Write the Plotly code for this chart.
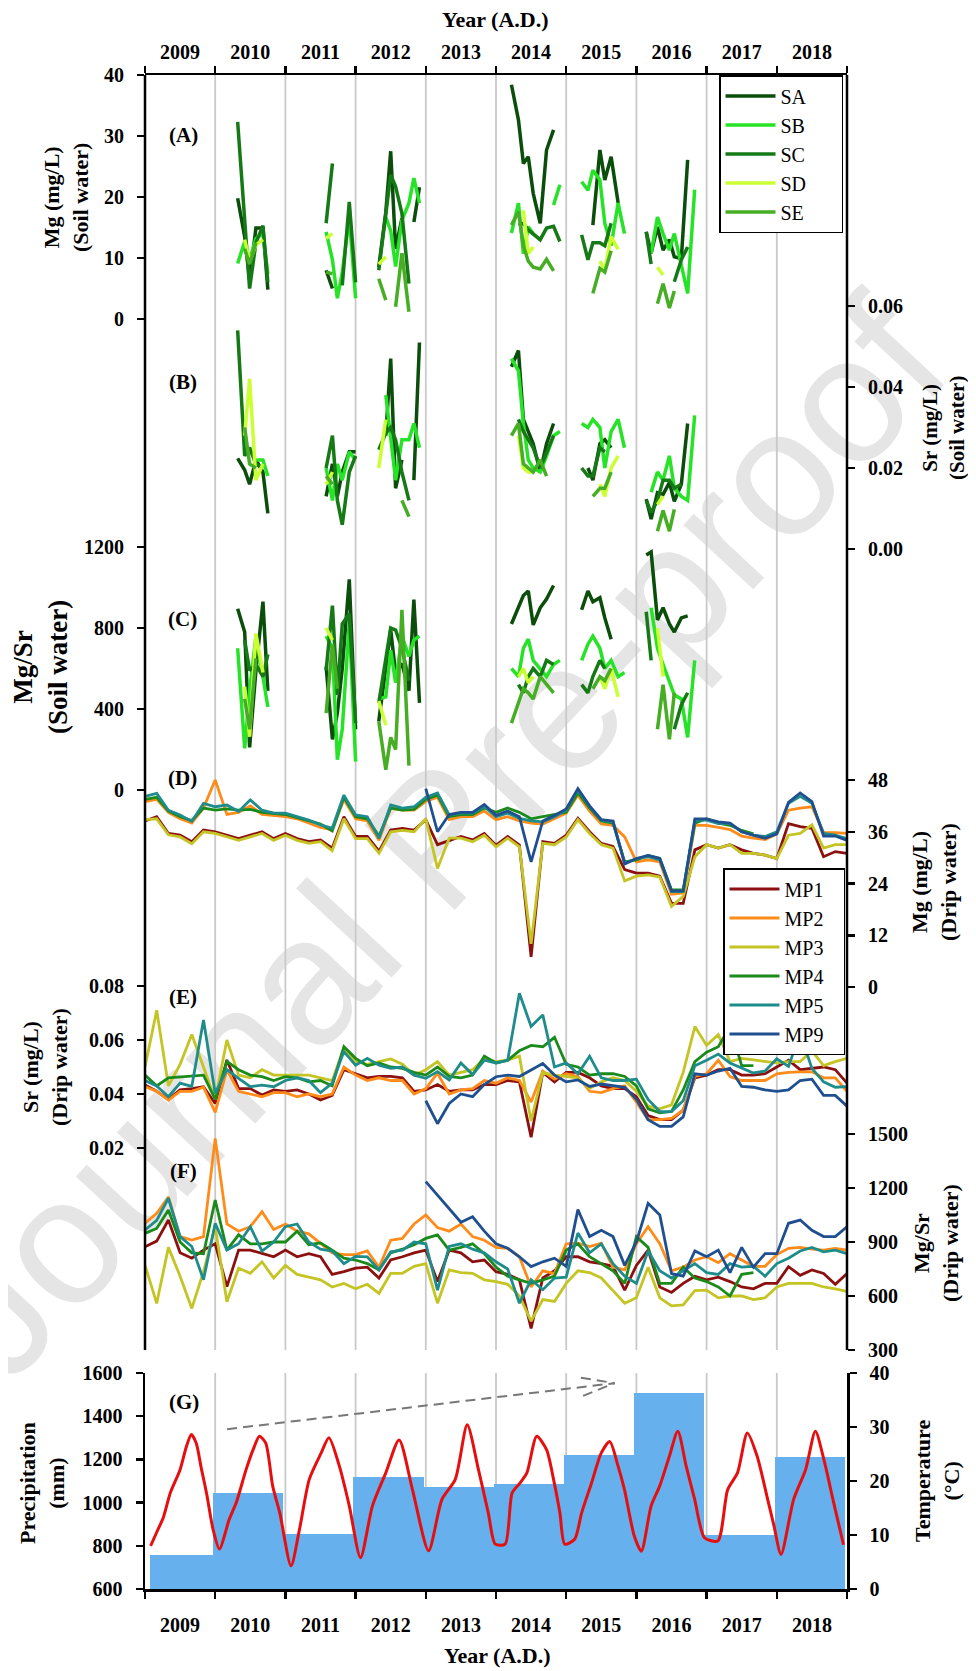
import plotly.graph_objects as go

# ---------------- data ----------------
YEARS = list(range(2009, 2019))
YEAR_LABELS = [str(y) for y in YEARS]
YEAR_BOUNDS = list(range(2009, 2020))

# soil-water sampling dates (decimal years), six campaigns
SOIL_T = [
    2010.32, 2010.42, 2010.49, 2010.58, 2010.68, 2010.75,
    2011.58, 2011.67, 2011.74, 2011.81, 2011.91, 2012.00,
    2012.33, 2012.43, 2012.50, 2012.57, 2012.66, 2012.76, 2012.83, 2012.91,
    2014.22, 2014.32, 2014.39, 2014.46, 2014.53, 2014.63, 2014.72, 2014.82, 2014.91,
    2015.22, 2015.31, 2015.38, 2015.48, 2015.55, 2015.64, 2015.74, 2015.83,
    2016.14, 2016.21, 2016.30, 2016.38, 2016.47, 2016.54, 2016.64, 2016.73, 2016.83]

N = None
# (A) Mg soil water (mg/L)
SA_MG = [19.8, 13.5, 6.4, 14.9, 14.9, 4.8,
         8.0, 5.0, N, N, N, N,
         8.5, 17.5, 27.5, 11.5, 16.5, N, 15.9, 21.6,
         38.4, 32.6, 25.5, 26.6, 20.6, 15.7, 27.7, 31.0, N,
         N, N, 15.4, 27.7, 22.8, 26.6, 19.0, N,
         14.3, 10.8, 15.1, 11.3, 13.0, 10.2, 9.9, 26.1, N]
SB_MG = [9.1, 12.7, 9.7, 13.2, 14.0, 7.4,
         14.3, 9.7, 3.4, 7.6, 16.7, 3.4,
         N, 16.7, 14.5, 8.6, 16.2, 19.0, 23.1, 19.0,
         14.1, 19.0, 10.7, 15.1, 14.0, N, N, 18.7, 22.0,
         22.5, 21.1, 24.4, 22.8, 15.7, 12.0, 19.0, 14.0,
         N, 10.8, 16.7, 14.0, 11.3, 14.0, 9.1, 4.2, 21.2]
SC_MG = [32.3, 16.0, 5.0, 12.5, 15.3, 6.0,
         15.7, 25.5, N, 5.5, 19.2, 6.0,
         8.0, 17.8, 23.6, 21.7, 17.3, 5.8, N, N,
         N, 15.4, 15.7, 14.6, 14.0, 13.0, 14.9, 15.2, 12.7,
         13.8, 9.7, 12.5, 12.5, 12.0, 15.7, N, N,
         14.3, 9.0, N, N, N, 6.1, 9.7, 11.8, N]
SD_MG = [N, 13.0, 9.4, 12.1, 13.0, N,
         13.2, 14.0, N, N, N, N,
         9.0, 10.2, N, N, N, N, N, N,
         N, N, 17.8, 10.7, 11.8, N, N, N, N,
         N, N, N, 9.5, 8.0, 13.5, 11.4, N,
         N, N, 8.5, 7.2, N, N, N, N, N]
SE_MG = [N, 11.5, 9.0, 12.5, N, N,
         7.7, 7.4, N, N, N, N,
         6.6, 3.1, N, 2.0, 10.8, 1.2, N, N,
         15.4, 17.6, 12.0, 9.5, 8.5, 8.2, 9.8, 7.9, N,
         N, N, 4.2, 8.3, 7.7, 11.2, N, N,
         N, N, 2.5, 5.8, 1.8, 4.6, N, N, N]

# (B) Sr soil water (mg/L)
SA_SR = [0.0224, 0.0195, 0.016, 0.022, 0.019, 0.0088,
         0.013, 0.021, 0.013, 0.019, 0.024, 0.024,
         N, 0.028, 0.047, 0.015, 0.022, N, 0.017, 0.051,
         0.045, 0.049, 0.032, 0.029, 0.026, 0.019, 0.026, 0.031, N,
         N, 0.020, 0.017, 0.026, 0.027, 0.025, N, N,
         0.0123, 0.0074, 0.0139, 0.0135, 0.0164, 0.0118, 0.016, 0.031, N]
SB_SR = [N, N, N, 0.022, 0.022, 0.018,
         0.020, 0.012, 0.021, 0.017, 0.024, 0.022,
         N, 0.038, 0.027, 0.017, 0.027, 0.027, 0.031, 0.025,
         0.047, 0.044, 0.031, 0.022, 0.020, 0.019, 0.023, 0.028, 0.029,
         0.031, 0.030, 0.032, 0.030, 0.020, 0.029, 0.032, 0.025,
         N, 0.014, 0.019, 0.017, 0.023, 0.015, 0.013, 0.012, 0.033]
SC_SR = [0.054, 0.023, 0.025, 0.021, 0.020, N,
         0.020, 0.028, 0.012, 0.006, 0.019, 0.023,
         0.0245, 0.0286, 0.030, 0.027, 0.019, 0.012, N, N,
         N, 0.032, 0.029, 0.027, 0.025, 0.020, 0.024, 0.028, N,
         0.020, 0.018, 0.018, 0.025, 0.024, N, N, N,
         0.012, 0.009, 0.012, 0.017, 0.017, 0.015, 0.016, N, N]
SD_SR = [N, 0.028, 0.042, 0.017, 0.021, N,
         0.016, 0.019, N, N, N, N,
         0.020, 0.032, N, N, N, N, N, N,
         N, 0.028, 0.020, 0.019, 0.019, N, N, N, N,
         N, N, N, 0.016, 0.013, 0.020, 0.023, N,
         N, N, 0.011, 0.013, N, N, N, N, N]
SE_SR = [N, 0.030, 0.021, 0.020, N, N,
         0.018, 0.016, N, N, N, N,
         N, N, N, N, 0.012, 0.008, N, N,
         0.028, 0.031, 0.021, 0.020, 0.019, 0.022, 0.018, N, N,
         N, N, 0.013, 0.015, 0.015, 0.019, N, N,
         N, N, 0.0044, 0.0095, 0.0044, 0.0098, N, N, N]

# (C) Mg/Sr soil water
SA_MS = [895, 780, 210, 590, 930, 490,
         610, 250, 380, 600, 1040, 300,
         340, 590, 790, 575, 625, 490, 940, 430,
         820, 900, 960, 983, 815, 900, 943, 1010, N,
         890, 983, 930, 950, 850, 745, N, N,
         1160, 1175, 840, 900, 820, 780, 850, 860, N]
SB_MS = [700, 206, 490, 757, 560, 410,
         760, 700, 150, 300, 830, 140,
         450, 460, 690, 530, 760, 660, 740, 760,
         600, 560, 700, 745, 640, 600, 560, 620, 640,
         640, 720, 760, 700, 600, 640, 560, 580,
         N, 900, 700, 620, 540, 470, 450, 260, 640]
SC_MS = [N, 740, 590, 620, 560, 670,
         590, 910, 470, 820, 870, 330,
         430, 650, 800, 790, 700, 540, N, N,
         N, 520, 480, 560, 600, 560, 640, 620, N,
         520, 480, 560, 640, 600, N, N, N,
         880, 640, N, N, N, 300, 420, 480, N]
SD_MS = [N, 510, 263, 773, 580, N,
         800, 740, N, N, N, N,
         440, 320, N, N, N, N, N, N,
         N, 560, 600, 530, 560, N, N, N, N,
         N, N, N, 560, 500, 600, 460, N,
         N, N, 800, 560, N, N, N, N, N]
SE_MS = [N, 450, 300, 650, N, N,
         380, 720, 500, N, N, N,
         340, 100, 260, 200, 890, 120, N, N,
         330, 430, 500, 480, 450, 560, 520, 480, N,
         N, N, 500, 560, 540, 600, N, N,
         N, N, 300, 520, 250, 480, N, N, N]

# drip-water samples, every two months 2009.0 .. 2019.0
DRIP_T = [2009 + k / 6 for k in range(61)]

# (D) Mg drip water (mg/L)
MP1_MG = [38.5, 39.5, 35.6, 35.2, 33.7, 36.4,
          36.0, 35.2, 34.4, 35.2, 36.0, 34.4,
          35.6, 34.4, 33.7, 34.1, 32.2, 39.5,
          34.9, 34.9, 31.5, 36.4, 36.8, 36.4,
          38.8, 33.0, 34.0, 34.9, 34.1, 35.6,
          32.9, 34.9, 32.9, 7.0, 33.7, 33.3,
          35.2, 39.1, 36.0, 33.3, 32.6, 27.2,
          26.4, 26.4, 25.7, 19.4, 19.4, 31.8,
          33.0, 32.2, 33.0, 31.8, 31.0, 30.6,
          29.8, 37.9, 37.2, 36.8, 30.2, 31.4,
          31.0]
MP2_MG = [43.0, 43.5, 40.5, 39.0, 38.0, 41.5,
          48.0, 40.0, 40.5, 42.0, 40.0, 39.8,
          39.5, 39.0, 38.0, 37.0, 36.5, 43.5,
          39.0, 38.5, 34.0, 41.5, 41.0, 41.0,
          43.0, 44.0, 38.8, 39.5, 39.5, 40.8,
          38.8, 39.5, 38.5, 38.0, 37.8, 39.0,
          40.3, 44.5, 40.8, 37.8, 37.5, 34.8,
          29.0, 29.5, 29.0, 21.5, 21.8, 37.5,
          37.5, 37.0, 36.5, 35.0, 34.5, 34.2,
          35.5, 41.0, 41.5, 41.8, 35.8, 35.8,
          35.6]
MP3_MG = [38.8, 39.0, 35.3, 34.8, 33.2, 36.0,
          35.6, 34.8, 34.0, 34.8, 35.6, 34.0,
          35.2, 34.0, 33.3, 33.7, 31.6, 39.0,
          34.4, 34.4, 31.0, 36.0, 36.3, 36.0,
          39.0, 27.5, 34.5, 34.5, 33.7, 35.2,
          32.5, 34.5, 32.5, 10.0, 33.3, 33.0,
          34.8, 38.8, 35.6, 33.0, 32.2, 24.6,
          25.7, 26.0, 25.5, 18.7, 21.0, 30.2,
          33.0, 32.2, 33.0, 31.0, 31.0, 30.6,
          29.8, 35.2, 35.6, 37.6, 32.2, 33.0,
          33.0]
MP4_MG = [43.5, 44.0, 40.8, 39.5, 38.6, 41.5,
          41.0, 41.3, 41.0, 41.2, 40.5, 40.3,
          40.0, 39.3, 38.5, 37.8, 36.2, 44.0,
          39.5, 39.0, 35.0, 41.5, 41.0, 41.2,
          43.5, 44.5, 39.5, 40.0, 40.0, 41.5,
          40.5, 41.5, 40.5, 39.0, 39.5, 40.0,
          40.5, 45.0, 41.5, 38.5, 38.0, 29.0,
          29.5, 30.5, 29.8, 22.5, 22.5, 38.0,
          39.0, 38.0, 37.5, 36.3, 35.5, N,
          N, N, N, N, N, N,
          N]
MP5_MG = [44.2, 44.9, 41.0, 39.9, 38.4, 42.6,
          41.8, 42.2, 40.7, 43.4, 41.0, 40.3,
          40.3, 39.5, 38.7, 37.6, 36.8, 44.5,
          39.9, 39.5, 34.5, 42.2, 41.5, 41.8,
          44.0, 45.0, 39.9, 40.3, 40.3, 41.8,
          39.5, 40.3, 39.1, 38.5, 38.3, 39.5,
          41.0, 45.7, 41.8, 38.7, 38.3, 28.7,
          29.8, 30.2, 29.5, 22.1, 22.1, 38.7,
          38.7, 37.9, 37.9, 36.0, 35.2, 34.9,
          36.0, 42.6, 44.2, 42.6, 35.6, 35.2,
          34.4]
MP9_MG = [N, N, N, N, N, N,  N, N, N, N, N, N,
          N, N, N, N, N, N,  N, N, N, N, N, N,
          46.0, 36.0, 40.0, 40.5, 40.5, 42.3,
          39.8, 40.8, 39.5, 29.0, 38.5, 39.8,
          41.3, 46.0, 42.0, 38.8, 38.5, 28.5,
          29.8, 30.5, 29.8, 22.3, 22.3, 39.0,
          39.0, 38.3, 38.0, 36.0, 35.2, 34.5,
          35.5, 42.8, 45.0, 43.0, 35.0, 35.0,
          34.0]

# (E) Sr drip water (mg/L)
MP1_SR = [0.0433, 0.041, 0.038, 0.0415, 0.042, 0.0427,
          0.0365, 0.0526, 0.042, 0.042, 0.0396, 0.0415,
          0.041, 0.0415, 0.040, 0.0378, 0.0395, 0.049,
          0.0475, 0.046, 0.0465, 0.0465, 0.046, 0.041,
          0.0415, 0.0435, 0.041, 0.0415, 0.0415, 0.0435,
          0.0435, 0.045, 0.0445, 0.024, 0.048, 0.0445,
          0.048, 0.048, 0.046, 0.043, 0.042, 0.042,
          0.039, 0.032, 0.0305, 0.0305, 0.034, 0.046,
          0.047, 0.049, 0.049, 0.047, 0.047, 0.0475,
          0.050, 0.0525, 0.049, 0.0495, 0.050, 0.049,
          0.044]
MP2_SR = [0.0428, 0.041, 0.0378, 0.041, 0.041, 0.0425,
          0.0332, 0.0489, 0.041, 0.040, 0.039, 0.0405,
          0.0405, 0.039, 0.040, 0.039, 0.040, 0.050,
          0.047, 0.045, 0.046, 0.045, 0.045, 0.040,
          0.042, 0.0477, 0.040, 0.0415, 0.042, 0.045,
          0.044, 0.046, 0.045, 0.037, 0.0485, 0.0455,
          0.0475, 0.0465, 0.041, 0.0405, 0.042, 0.043,
          0.037, 0.0305, 0.0305, 0.031, 0.034, 0.0465,
          0.0475, 0.0525, 0.0465, 0.045, 0.045, 0.045,
          0.0475, 0.048, 0.0482, 0.0482, 0.046, 0.046,
          0.041]
MP3_SR = [0.050, 0.071, 0.043, 0.051, 0.062, 0.050,
          0.038, 0.060, 0.047, 0.046, 0.049, 0.047,
          0.047, 0.047, 0.047, 0.046, 0.045, 0.057,
          0.052, 0.051, 0.052, 0.053, 0.051, 0.047,
          0.049, 0.052, 0.047, 0.048, 0.049, 0.053,
          0.052, 0.0525, 0.054, 0.030, 0.048, 0.047,
          0.0465, 0.046, 0.042, 0.0445, 0.046, 0.045,
          0.041, 0.0355, 0.0345, 0.036, 0.048, 0.065,
          0.058, 0.062, 0.052, 0.0532, 0.0526, 0.052,
          0.0515, 0.052, 0.052, 0.056, 0.0505, 0.052,
          0.0532]
MP4_SR = [0.047, 0.043, 0.046, 0.0464, 0.0468, 0.047,
          0.038, 0.052, 0.049, 0.047, 0.0464, 0.045,
          0.0464, 0.046, 0.0445, 0.045, 0.043, 0.0575,
          0.0532, 0.0505, 0.0515, 0.050, 0.0495, 0.048,
          0.047, 0.050, 0.0465, 0.046, 0.047, 0.054,
          0.0515, 0.0525, 0.056, 0.058, 0.0575, 0.061,
          0.051, 0.050, 0.047, 0.0475, 0.0475, 0.0465,
          0.043, 0.0345, 0.033, 0.0335, 0.0415, 0.052,
          0.0555, 0.0575, 0.065, 0.0505, 0.0505, N,
          N, N, N, N, N, N,
          N]
MP5_SR = [0.045, 0.043, 0.039, 0.044, 0.0428, 0.0674,
          0.0402, 0.049, 0.0458, 0.0427, 0.0433, 0.0427,
          0.045, 0.046, 0.045, 0.0405, 0.044, 0.0557,
          0.0507, 0.0532, 0.0507, 0.0495, 0.050, 0.047,
          0.0458, 0.0483, 0.0452, 0.0515, 0.0472, 0.0525,
          0.0515, 0.0525, 0.0773, 0.065, 0.0693, 0.050,
          0.0515, 0.0475, 0.054, 0.046, 0.045, 0.045,
          0.0455, 0.038, 0.0335, 0.0335, 0.0375, 0.0505,
          0.0525, 0.0548, 0.0515, 0.0495, 0.0478, 0.0485,
          0.053, 0.0502, 0.0625, 0.0495, 0.0445, 0.0425,
          0.0427]
MP9_SR = [N, N, N, N, N, N,  N, N, N, N, N, N,
          N, N, N, N, N, N,  N, N, N, N, N, N,
          0.0375, 0.029, 0.0365, 0.040, 0.039, 0.0435,
          0.0464, 0.047, 0.0465, 0.049, 0.0513, 0.047,
          0.0445, 0.0452, 0.0428, 0.0437, 0.043, 0.0425,
          0.038, 0.0305, 0.028, 0.028, 0.0315, 0.0475,
          0.047, 0.0485, 0.0495, 0.0428, 0.0425, 0.0415,
          0.041, 0.0415, 0.045, 0.0455, 0.0395, 0.0395,
          0.0355]

# (F) Mg/Sr drip water
MP1_MS = [874, 905, 1022, 840, 810, 855,
          890, 652, 855, 855, 837, 818,
          855, 818, 835, 818, 720, 735,
          755, 760, 700, 800, 818, 840,
          855, 680, 855, 840, 790, 800,
          735, 720, 690, 420, 700, 740,
          818, 818, 790, 780, 765, 633,
          770, 855, 650, 620, 670, 710,
          690, 705, 680, 650, 640, 670,
          670, 763, 715, 745, 725, 665,
          725]
MP2_MS = [1004, 1060, 1150, 930, 911, 930,
          1476, 1000, 960, 985, 1068, 970,
          1000, 960, 945, 890, 840, 830,
          830, 850, 760, 910, 920, 1000,
          1050, 980, 960, 1000, 930, 910,
          870, 865, 818, 650, 740, 725,
          890, 893, 875, 893, 760, 745,
          890, 985, 890, 740, 760, 800,
          818, 785, 835, 800, 765, 765,
          830, 865, 870, 860, 855, 865,
          855]
MP3_MS = [772, 559, 870, 710, 531, 735,
          985, 568, 755, 726, 790, 700,
          770, 720, 705, 690, 650, 670,
          640, 665, 615, 726, 726, 765,
          780, 560, 745, 730, 726, 690,
          680, 665, 600, 460, 580, 570,
          670, 740, 730, 700, 630, 560,
          590, 760, 590, 545, 550, 630,
          633, 590, 600, 600, 580, 590,
          650, 670, 670, 670, 650, 640,
          625]
MP4_MS = [948, 975, 1078, 900, 840, 835,
          1133, 855, 940, 890, 890, 900,
          900, 960, 885, 895, 855, 810,
          800, 780, 745, 840, 860, 885,
          920, 940, 855, 870, 890, 835,
          760, 710, 690, 670, 690, 710,
          855, 890, 818, 780, 740, 670,
          930, 870, 670, 670, 760, 700,
          680, 650, 600, 720, 730, N,
          N, N, N, N, N, N,
          N]
MP5_MS = [967, 1020, 1143, 930, 875, 690,
          1004, 855, 890, 985, 850, 900,
          985, 1000, 900, 860, 850, 780,
          820, 818, 745, 845, 855, 900,
          890, 633, 875, 890, 860, 840,
          790, 750, 560, 690, 635, 700,
          705, 950, 840, 890, 780, 710,
          670, 850, 740, 700, 740, 780,
          730, 720, 780, 760, 765, 710,
          780, 810, 850, 870, 845, 855,
          835]
MP9_MS = [N, N, N, N, N, N,  N, N, N, N, N, N,
          N, N, N, N, N, N,  N, N, N, N, N, N,
          1235, 1160, 1080, 1010, 1040, 960,
          890, 865, 818, 763, 790, 810,
          765, 1080, 930, 965, 930, 770,
          900, 1115, 1050, 725, 710, 850,
          818, 855, 730, 870, 760, 835,
          835, 1004, 1022, 965, 930, 930,
          985]

# (G) annual precipitation (mm) and monthly temperature (deg C)
PRECIP = [756, 1043, 854, 1117, 1073, 1084, 1219, 1507, 849, 1209]
PRECIP_SPAN = [0.9, 1, 1, 1, 1, 1, 1, 1, 1, 1]   # fraction of the year each bar covers
TEMP_T = [2009.08, 2009.17, 2009.26, 2009.36, 2009.50, 2009.59, 2009.66, 2009.73, 2009.80, 2009.88, 2009.97,
          2010.06, 2010.20, 2010.30, 2010.44, 2010.54, 2010.63, 2010.72, 2010.82, 2010.92,
          2011.08, 2011.20, 2011.34, 2011.51, 2011.62, 2011.77, 2011.91,
          2012.07, 2012.24, 2012.43, 2012.62, 2012.81,
          2013.04, 2013.23, 2013.42, 2013.59, 2013.75, 2013.89,
          2013.99, 2014.13, 2014.23, 2014.34, 2014.44, 2014.58, 2014.72, 2014.82, 2014.91,
          2014.98, 2015.12, 2015.22, 2015.36, 2015.50, 2015.62, 2015.74, 2015.83, 2015.97,
          2016.07, 2016.21, 2016.33, 2016.47, 2016.59, 2016.71, 2016.83, 2016.97,
          2017.16, 2017.30, 2017.44, 2017.58, 2017.72, 2017.87, 2017.96,
          2018.06, 2018.24, 2018.41, 2018.55, 2018.67, 2018.81, 2018.95]
TEMP_V = [8.0, 10.6, 13.2, 17.8, 22.1, 26.4, 28.6, 27.0, 22.5, 17.5, 11.0,
          7.4, 12.9, 16.0, 22.1, 25.8, 28.3, 27.0, 19.0, 14.1,
          4.3, 11.0, 20.3, 25.2, 28.0, 22.7, 15.4,
          5.8, 15.4, 21.5, 27.6, 18.4,
          7.1, 16.6, 20.3, 30.4, 22.1, 14.1,
          8.3, 8.3, 17.8, 19.6, 21.5, 28.3, 25.8, 20.3, 14.1,
          8.3, 9.2, 14.1, 19.6, 25.2, 27.3, 22.7, 18.4, 9.8,
          7.0, 15.4, 19.0, 24.6, 29.2, 22.7, 16.6, 9.5,
          8.9, 18.4, 21.5, 28.9, 24.6, 16.6, 11.7,
          6.4, 16.6, 22.1, 29.2, 24.0, 16.0, 8.2]

# dashed trend arrow in (G): start, tip and the two barb ends (year, mm)
ARROW_LINE = [(2010.17, 1340), (2015.69, 1553)]
ARROW_BARBS = [(2015.21, 1578), (2015.24, 1494)]

SOIL = [("SA", "#0b4d0b", SA_MG, SA_SR, SA_MS),
        ("SB", "#27e327", SB_MG, SB_SR, SB_MS),
        ("SC", "#157a15", SC_MG, SC_SR, SC_MS),
        ("SD", "#ccff33", SD_MG, SD_SR, SD_MS),
        ("SE", "#47ad25", SE_MG, SE_SR, SE_MS)]
DRIP = [("MP1", "#8c1010", MP1_MG, MP1_SR, MP1_MS),
        ("MP2", "#ff8c1a", MP2_MG, MP2_SR, MP2_MS),
        ("MP3", "#c4c424", MP3_MG, MP3_SR, MP3_MS),
        ("MP4", "#1a8a1a", MP4_MG, MP4_SR, MP4_MS),
        ("MP5", "#1f8c8c", MP5_MG, MP5_SR, MP5_MS),
        ("MP9", "#1f4f8f", MP9_MG, MP9_SR, MP9_MS)]

for _, _, a, b, c in SOIL:
    assert len(a) == len(b) == len(c) == len(SOIL_T)
for _, _, a, b, c in DRIP:
    assert len(a) == len(b) == len(c) == len(DRIP_T)
assert len(TEMP_T) == len(TEMP_V)

# ---------------- layout geometry (page pixel coordinates) ----------------
W, H = 976, 1671
OFF = 8                      # the page body margin shifts the figure by 8 px
PLOT_L, PLOT_R, PLOT_T, PLOT_B = 145, 847, 75, 1589
ML, MT = PLOT_L - OFF, PLOT_T - OFF
MR, MB = W - (PLOT_R - OFF), H - (PLOT_B - OFF)
PW = W - ML - MR
PH = H - MT - MB
FONT = "Liberation Serif"
TICKFONT = dict(family=FONT, size=20, color="black", weight="bold")


def xp(px):
    return (px - OFF - ML) / PW


def yp(py):
    return (H - MB - (py - OFF)) / PH


def yaxis(v1, p1, v2, p2, top, bot, side, tickvals, fmt="", anchor="x", overlaying=None, line=False):
    s = (v2 - v1) / (p1 - p2)
    lo = v1 - (bot - p1) * s
    hi = v1 + (p1 - top) * s
    ax = dict(domain=[max(0.0, yp(bot)), min(1.0, yp(top))], range=[lo, hi], side=side, anchor=anchor,
              tickmode="array", tickvals=tickvals, tickformat=fmt,
              ticks="outside", ticklen=7, tickwidth=2.5, tickcolor="black",
              ticklabelstandoff=9,
              tickfont=TICKFONT, showgrid=False, zeroline=False,
              showline=line, linewidth=2.5, linecolor="black",
              automargin=False, fixedrange=True)
    if overlaying:
        ax["overlaying"] = overlaying
    return ax


def gaps(ts, vs):
    xs, ys, prev = [], [], None
    for t, v in zip(ts, vs):
        if prev is not None and t - prev > 0.2:
            xs.append(None)
            ys.append(None)
        xs.append(t)
        ys.append(v)
        prev = t
    return xs, ys


NB = "\u00a0"
fig = go.Figure()

# soil water panels A, B, C
for name, color, mg, sr, ms in SOIL:
    for i, (vals, ya) in enumerate([(mg, "y"), (sr, "y2"), (ms, "y3")]):
        xs, ys = gaps(SOIL_T, vals)
        fig.add_trace(go.Scatter(x=xs, y=ys, xaxis="x", yaxis=ya, mode="lines",
                                 line=dict(color=color, width=3.5),
                                 name=name + NB * 6, legendgroup=name, showlegend=(i == 0),
                                 legend="legend", hoverinfo="skip"))

# drip water panels D, E, F
for name, color, mg, sr, ms in DRIP:
    for i, (vals, ya) in enumerate([(mg, "y4"), (sr, "y5"), (ms, "y6")]):
        fig.add_trace(go.Scatter(x=DRIP_T, y=vals, xaxis="x", yaxis=ya, mode="lines",
                                 line=dict(color=color, width=2.8),
                                 name=name + NB * 3, legendgroup=name, showlegend=(i == 0),
                                 legend="legend2", hoverinfo="skip"))

# panel G
fig.add_trace(go.Bar(x=[y + 0.47 + (1 - w) / 2 for y, w in zip(YEARS, PRECIP_SPAN)], y=PRECIP,
                     width=PRECIP_SPAN, xaxis="x2", yaxis="y7",
                     marker=dict(color="#66b0ee", line=dict(width=0)), showlegend=False,
                     hoverinfo="skip"))
fig.add_trace(go.Scatter(x=TEMP_T, y=TEMP_V, xaxis="x2", yaxis="y8", mode="lines",
                         line=dict(color="#e60f0f", width=3, shape="spline", smoothing=0.7),
                         showlegend=False, hoverinfo="skip"))

xcommon = dict(range=[2009, 2019], domain=[0, 1], tickmode="array",
               tickvals=[y + 0.5 for y in YEARS], ticktext=YEAR_LABELS,
               ticks="outside", tickcolor="rgba(0,0,0,0)", tickwidth=1, tickfont=TICKFONT,
               minor=dict(tickmode="array", tickvals=YEAR_BOUNDS, ticks="outside", ticklen=7,
                          tickwidth=2.5, tickcolor="black", showgrid=False),
               showline=True, linewidth=2.5, linecolor="black", showgrid=False,
               zeroline=False, automargin=False, fixedrange=True)

shapes = []
# watermark (behind everything)
shapes.append(dict(type="line", xref="paper", yref="paper", layer="below",
                   x0=xp(20), y0=yp(1410), x1=xp(975), y1=yp(385),
                   line=dict(color="rgba(0,0,0,0)", width=1),
                   label=dict(text="Journal Pre-proof", textposition="middle", textangle=-47.0,
                              font=dict(family="Liberation Sans", size=180, color="#e5e5e5"))))
# vertical year grid lines
for b in YEAR_BOUNDS[1:-1]:
    shapes.append(dict(type="line", xref="x", yref="paper", layer="below", x0=b, x1=b,
                       y0=yp(1350), y1=yp(75), line=dict(color="#c9c9c9", width=1.8)))
    shapes.append(dict(type="line", xref="x2", yref="paper", layer="below", x0=b, x1=b,
                       y0=yp(1589), y1=yp(1373), line=dict(color="#c9c9c9", width=1.8)))
# outer axis lines for stacked panels A-F
for xx in (0, 1):
    shapes.append(dict(type="line", xref="paper", yref="paper", x0=xx, x1=xx,
                       y0=yp(1350), y1=yp(75), line=dict(color="black", width=2.5)))
# dashed trend arrow
(ax0, ay0), (ax1, ay1) = ARROW_LINE
shapes.append(dict(type="line", xref="x2", yref="y7", x0=ax0, y0=ay0, x1=ax1, y1=ay1,
                   line=dict(color="#777777", width=2, dash="10px,6px")))
for bx, by in ARROW_BARBS:
    shapes.append(dict(type="line", xref="x2", yref="y7", x0=bx, y0=by, x1=ax1, y1=ay1,
                       line=dict(color="#777777", width=2, dash="10px,6px")))


def ann(text, x, y, size, angle=0):
    return dict(text=text, x=xp(x), y=yp(y), xref="paper", yref="paper", showarrow=False,
                textangle=angle, xanchor="center", yanchor="middle",
                font=dict(family=FONT, size=size, color="black", weight="bold"))


annotations = [
    ann("Year (A.D.)", 495, 19, 22),
    ann("Year (A.D.)", 497, 1655, 22),
    ann("(A)", 183, 135, 21), ann("(B)", 183, 382, 21), ann("(C)", 182, 619, 21),
    ann("(D)", 182, 778, 21), ann("(E)", 183, 997, 21), ann("(F)", 183, 1171, 21),
    ann("(G)", 184, 1402, 21),
    ann("Mg (mg/L)<br>(Soil water)", 66, 198, 22, -90),
    ann("Mg/Sr<br>(Soil water)", 40, 667, 27, -90),
    ann("Sr (mg/L)<br>(Drip water)", 45, 1067, 22, -90),
    ann("Precipitation<br>(mm)", 42, 1483, 22, -90),
    ann("Sr (mg/L)<br>(Soil water)", 943, 428, 21, -90),
    ann("Mg (mg/L)<br>(Drip water)", 934, 882, 22, -90),
    ann("Mg/Sr<br>(Drip water)", 936, 1243, 22, -90),
    ann("Temperature<br>(°C)", 937, 1481, 22, -90),
]

legend_common = dict(xanchor="left", yanchor="top", bgcolor="white", bordercolor="black",
                     borderwidth=1.5, font=dict(family=FONT, size=20, color="black"),
                     itemwidth=50, tracegroupgap=0, traceorder="normal", xref="paper", yref="paper")

fig.update_layout(
    width=W, height=H, autosize=False, template="none",
    margin=dict(l=ML, r=MR, t=MT, b=MB, pad=0),
    paper_bgcolor="white", plot_bgcolor="rgba(0,0,0,0)",
    showlegend=True, bargap=0,
    xaxis=dict(xcommon, anchor="y", side="top", ticklen=6),
    xaxis2=dict(xcommon, anchor="y7", side="bottom", ticklen=16),
    yaxis=yaxis(0, 319, 40, 75, 75, 322, "left", [0, 10, 20, 30, 40]),
    yaxis2=yaxis(0, 549, 0.06, 306, 306, 549, "right", [0, 0.02, 0.04, 0.06], ".2f"),
    yaxis3=yaxis(0, 790, 1200, 547, 545, 790, "left", [0, 400, 800, 1200]),
    yaxis4=yaxis(0, 987, 48, 780, 776, 987, "right", [0, 12, 24, 36, 48]),
    yaxis5=yaxis(0.02, 1148, 0.08, 986, 982, 1152, "left", [0.02, 0.04, 0.06, 0.08], ".2f"),
    yaxis6=yaxis(300, 1350, 1500, 1134, 1130, 1350, "right", [300, 600, 900, 1200, 1500]),
    yaxis7=yaxis(600, 1589, 1600, 1373, 1373, 1589, "left", [600, 800, 1000, 1200, 1400, 1600],
                 anchor="x2", line=True),
    yaxis8=yaxis(0, 1589, 40, 1373, 1373, 1589, "right", [0, 10, 20, 30, 40],
                 anchor="x2", overlaying="y7", line=True),
    legend=dict(legend_common, x=xp(719), y=1.0),
    legend2=dict(legend_common, x=xp(723), y=yp(868)),
    shapes=shapes,
    annotations=annotations,
)

fig.write_html("out.html", config=dict(displayModeBar=False, staticPlot=True))
